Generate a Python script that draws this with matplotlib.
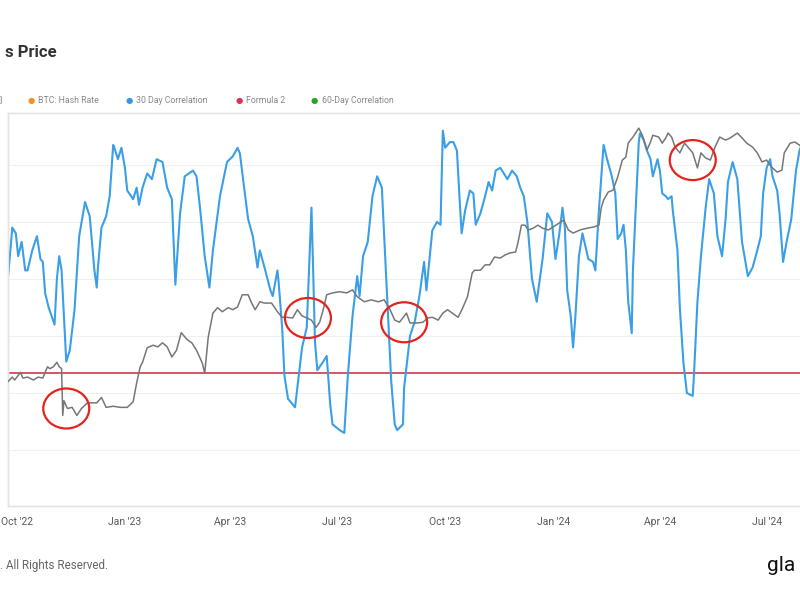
import numpy as np
import pandas as pd
import matplotlib
matplotlib.use("Agg")
import matplotlib.pyplot as plt
import matplotlib.dates as mdates
from matplotlib.patches import Ellipse
from matplotlib.transforms import IdentityTransform

plt.rcParams['font.family'] = ['Roboto', 'DejaVu Sans']

# 30 day correlation (blue)
corr_dates = [
    '2022-09-23', '2022-09-27', '2022-09-30', '2022-10-02', '2022-10-05', '2022-10-08', '2022-10-10',
    '2022-10-14', '2022-10-18', '2022-10-21', '2022-10-23', '2022-10-25', '2022-10-28', '2022-11-02',
    '2022-11-04', '2022-11-06', '2022-11-08', '2022-11-10', '2022-11-12', '2022-11-15', '2022-11-19',
    '2022-11-23', '2022-11-28', '2022-12-02', '2022-12-06', '2022-12-08', '2022-12-09', '2022-12-12',
    '2022-12-16', '2022-12-19', '2022-12-22', '2022-12-23', '2022-12-26', '2022-12-29', '2023-01-01',
    '2023-01-03', '2023-01-08', '2023-01-11', '2023-01-13', '2023-01-16', '2023-01-20', '2023-01-24',
    '2023-01-28', '2023-02-02', '2023-02-06', '2023-02-10', '2023-02-13', '2023-02-17', '2023-02-21',
    '2023-02-28', '2023-03-03', '2023-03-06', '2023-03-10', '2023-03-14', '2023-03-17', '2023-03-23',
    '2023-03-29', '2023-04-03', '2023-04-07', '2023-04-09', '2023-04-12', '2023-04-16', '2023-04-18',
    '2023-04-20', '2023-04-24', '2023-04-26', '2023-04-30', '2023-05-05', '2023-05-07', '2023-05-11',
    '2023-05-12', '2023-05-15', '2023-05-17', '2023-05-20', '2023-05-26', '2023-05-28', '2023-06-01',
    '2023-06-05', '2023-06-09', '2023-06-10', '2023-06-12', '2023-06-14', '2023-06-19', '2023-06-22',
    '2023-06-25', '2023-06-27', '2023-07-03', '2023-07-07', '2023-07-10', '2023-07-14', '2023-07-18',
    '2023-07-20', '2023-07-23', '2023-07-27', '2023-07-31', '2023-08-04', '2023-08-08', '2023-08-10',
    '2023-08-13', '2023-08-16', '2023-08-19', '2023-08-21', '2023-08-26', '2023-08-27', '2023-09-01',
    '2023-09-05', '2023-09-09', '2023-09-13', '2023-09-15', '2023-09-20', '2023-09-24', '2023-09-27',
    '2023-09-29', '2023-10-01', '2023-10-05', '2023-10-08', '2023-10-11', '2023-10-13', '2023-10-15',
    '2023-10-18', '2023-10-22', '2023-10-25', '2023-10-27', '2023-10-31', '2023-11-04', '2023-11-07',
    '2023-11-10', '2023-11-13', '2023-11-17', '2023-11-23', '2023-11-27', '2023-12-01', '2023-12-04',
    '2023-12-07', '2023-12-10', '2023-12-14', '2023-12-18', '2023-12-23', '2023-12-27', '2023-12-31',
    '2024-01-03', '2024-01-06', '2024-01-09', '2024-01-11', '2024-01-13', '2024-01-16', '2024-01-18',
    '2024-01-20', '2024-01-23', '2024-01-26', '2024-01-31', '2024-02-04', '2024-02-06', '2024-02-09',
    '2024-02-13', '2024-02-16', '2024-02-20', '2024-02-23', '2024-02-25', '2024-02-28', '2024-03-01',
    '2024-03-03', '2024-03-05', '2024-03-08', '2024-03-09', '2024-03-12', '2024-03-14', '2024-03-15',
    '2024-03-18', '2024-03-21', '2024-03-24', '2024-03-26', '2024-03-30', '2024-04-01', '2024-04-03',
    '2024-04-06', '2024-04-08', '2024-04-11', '2024-04-12', '2024-04-16', '2024-04-18', '2024-04-21',
    '2024-04-24', '2024-04-29', '2024-04-30', '2024-05-03', '2024-05-06', '2024-05-10', '2024-05-13',
    '2024-05-17', '2024-05-20', '2024-05-24', '2024-05-27', '2024-05-29', '2024-06-02', '2024-06-06',
    '2024-06-10', '2024-06-15', '2024-06-19', '2024-06-23', '2024-06-26', '2024-06-28', '2024-07-01',
    '2024-07-04', '2024-07-06', '2024-07-10', '2024-07-12', '2024-07-15', '2024-07-18', '2024-07-22',
    '2024-07-26', '2024-07-29', '2024-08-02',
]
corr_values = [
    0.19, 0.38, 0.36, 0.28, 0.33, 0.23, 0.23,
    0.30, 0.35, 0.27, 0.26, 0.15, 0.10, 0.04,
    0.20, 0.28, 0.23, 0.07, -0.09, -0.05, 0.09,
    0.35, 0.47, 0.42, 0.23, 0.17, 0.24, 0.38,
    0.42, 0.49, 0.67, 0.66, 0.62, 0.66, 0.59,
    0.51, 0.48, 0.52, 0.46, 0.52, 0.57, 0.55,
    0.62, 0.61, 0.52, 0.48, 0.18, 0.43, 0.56,
    0.58, 0.56, 0.45, 0.28, 0.17, 0.30, 0.49,
    0.61, 0.63, 0.66, 0.64, 0.54, 0.41, 0.38,
    0.35, 0.24, 0.30, 0.24, 0.16, 0.14, 0.23,
    0.19, 0.03, -0.14, -0.22, -0.25, -0.18, -0.04,
    0.03, 0.45, 0.30, -0.02, -0.12, -0.09, -0.07,
    -0.24, -0.31, -0.33, -0.34, -0.14, 0.07, 0.21,
    0.14, 0.28, 0.33, 0.49, 0.56, 0.52, 0.35,
    0.09, -0.16, -0.31, -0.33, -0.31, -0.18, 0.00,
    0.05, 0.14, 0.26, 0.16, 0.37, 0.40, 0.39,
    0.72, 0.66, 0.68, 0.68, 0.65, 0.50, 0.36,
    0.44, 0.51, 0.50, 0.39, 0.43, 0.49, 0.54,
    0.51, 0.58, 0.59, 0.55, 0.58, 0.56, 0.52,
    0.49, 0.40, 0.20, 0.12, 0.27, 0.43, 0.40,
    0.27, 0.35, 0.45, 0.38, 0.16, 0.07, -0.04,
    0.07, 0.28, 0.36, 0.27, 0.26, 0.23, 0.44,
    0.67, 0.62, 0.56, 0.50, 0.34, 0.36, 0.39,
    0.30, 0.12, 0.01, 0.23, 0.50, 0.68, 0.71,
    0.69, 0.65, 0.62, 0.56, 0.62, 0.58, 0.50,
    0.49, 0.48, 0.49, 0.44, 0.30, 0.10, -0.09,
    -0.20, -0.21, -0.14, 0.12, 0.28, 0.45, 0.55,
    0.50, 0.35, 0.28, 0.41, 0.54, 0.61, 0.55,
    0.33, 0.21, 0.24, 0.30, 0.35, 0.50, 0.59,
    0.62, 0.56, 0.51, 0.43, 0.26, 0.33, 0.41,
    0.58, 0.65, 0.70,
]

# BTC price (grey, log scale)
price_dates = [
    '2022-09-23', '2022-09-27', '2022-09-29', '2022-10-04', '2022-10-06', '2022-10-10', '2022-10-15',
    '2022-10-19', '2022-10-23', '2022-10-27', '2022-10-29', '2022-11-01', '2022-11-04', '2022-11-06',
    '2022-11-08', '2022-11-09', '2022-11-10', '2022-11-13', '2022-11-17', '2022-11-21', '2022-11-25',
    '2022-11-30', '2022-12-04', '2022-12-08', '2022-12-12', '2022-12-16', '2022-12-22', '2022-12-28',
    '2023-01-03', '2023-01-08', '2023-01-11', '2023-01-14', '2023-01-16', '2023-01-20', '2023-01-25',
    '2023-01-29', '2023-02-02', '2023-02-06', '2023-02-10', '2023-02-14', '2023-02-18', '2023-02-23',
    '2023-02-27', '2023-03-03', '2023-03-08', '2023-03-10', '2023-03-13', '2023-03-17', '2023-03-21',
    '2023-03-25', '2023-03-30', '2023-04-03', '2023-04-07', '2023-04-11', '2023-04-16', '2023-04-19',
    '2023-04-22', '2023-04-26', '2023-04-30', '2023-05-06', '2023-05-11', '2023-05-15', '2023-05-19',
    '2023-05-24', '2023-05-28', '2023-06-01', '2023-06-05', '2023-06-09', '2023-06-13', '2023-06-16',
    '2023-06-19', '2023-06-22', '2023-06-27', '2023-07-03', '2023-07-09', '2023-07-14', '2023-07-18',
    '2023-07-24', '2023-07-30', '2023-08-05', '2023-08-10', '2023-08-15', '2023-08-19', '2023-08-23',
    '2023-08-29', '2023-09-01', '2023-09-07', '2023-09-12', '2023-09-16', '2023-09-20', '2023-09-25',
    '2023-09-29', '2023-10-03', '2023-10-07', '2023-10-12', '2023-10-16', '2023-10-20', '2023-10-24',
    '2023-10-26', '2023-10-31', '2023-11-04', '2023-11-08', '2023-11-12', '2023-11-17', '2023-11-21',
    '2023-11-25', '2023-11-30', '2023-12-02', '2023-12-05', '2023-12-08', '2023-12-11', '2023-12-15',
    '2023-12-19', '2023-12-23', '2023-12-28', '2024-01-01', '2024-01-06', '2024-01-10', '2024-01-14',
    '2024-01-18', '2024-01-24', '2024-01-30', '2024-02-05', '2024-02-09', '2024-02-11', '2024-02-13',
    '2024-02-17', '2024-02-21', '2024-02-25', '2024-02-29', '2024-03-03', '2024-03-05', '2024-03-09',
    '2024-03-14', '2024-03-17', '2024-03-21', '2024-03-24', '2024-03-26', '2024-03-31', '2024-04-03',
    '2024-04-06', '2024-04-08', '2024-04-11', '2024-04-14', '2024-04-18', '2024-04-22', '2024-04-27',
    '2024-04-29', '2024-05-03', '2024-05-06', '2024-05-10', '2024-05-14', '2024-05-18', '2024-05-22',
    '2024-05-27', '2024-05-31', '2024-06-06', '2024-06-10', '2024-06-14', '2024-06-19', '2024-06-23',
    '2024-06-27', '2024-07-01', '2024-07-05', '2024-07-10', '2024-07-14', '2024-07-16', '2024-07-21',
    '2024-07-25', '2024-07-29', '2024-08-02',
]
price_values = [
    19100, 19600, 19300, 20100, 19500, 19600, 19300,
    19600, 19500, 20700, 20500, 20700, 21200, 20700,
    20500, 16000, 17300, 16600, 16700, 16000, 16600,
    17100, 17100, 17100, 17600, 16700, 16800, 16700,
    16700, 17200, 19000, 20700, 21200, 22900, 23200,
    23000, 23500, 23000, 21800, 22600, 24800, 23900,
    23500, 22600, 21100, 20000, 24200, 27500, 28300,
    27700, 28300, 28000, 28400, 30300, 30300, 29000,
    28000, 29200, 29000, 29000, 27700, 26900, 26900,
    26800, 28000, 27100, 26800, 26500, 25500, 26200,
    28000, 30300, 30600, 30800, 30600, 31100, 30000,
    29200, 29500, 29200, 29500, 28000, 26500, 26200,
    27500, 26100, 26100, 26200, 26800, 26900, 26500,
    27500, 28000, 27500, 26900, 28300, 30000, 34000,
    34500, 34500, 35500, 35500, 37000, 36800, 37400,
    37800, 38000, 39900, 43800, 43800, 42700, 43100,
    43800, 43100, 42700, 43400, 44300, 45000, 42700,
    42000, 42700, 43100, 43400, 43800, 48000, 50000,
    52200, 52700, 56500, 61800, 62800, 67600, 69800,
    73200, 70500, 65200, 68000, 70500, 69800, 67600,
    69500, 71300, 69800, 66200, 64200, 67600, 65200,
    64200, 59300, 64200, 62500, 61800, 66200, 69800,
    68700, 69500, 71300, 69500, 67600, 66200, 64200,
    61200, 61800, 59600, 58000, 58600, 64200, 67600,
    68000, 66900, 66000,
]

formula_2 = -0.13

# highlighted price zones (date, price)
circle_dates = ['2022-11-12', '2023-06-06', '2023-08-27', '2024-04-29']
circle_prices = [16600, 26800, 26200, 61800]

legend_labels = ['BTC: Hash Rate', '30 Day Correlation', 'Formula 2', '60-Day Correlation']
legend_colors = ['#f0931e', '#2f9be3', '#d8344e', '#25a52a']

corr_d = pd.to_datetime(corr_dates)
price_d = pd.to_datetime(price_dates)

fig = plt.figure(figsize=(8, 6), dpi=100)
ax = fig.add_axes([0.01, 0.1567, 1.0275, 0.655])
ax2 = ax.twinx()

ax.plot(corr_d, corr_values, color='#3a9fe6', lw=1.5, zorder=3)
ax.axhline(formula_2, color='#d8445c', lw=1.3, zorder=2)
ax2.plot(price_d, price_values, color='#777777', lw=1.1, zorder=4)

ax.set_zorder(2)
ax.patch.set_visible(False)
ax2.set_zorder(3)

ax.set_xlim(pd.Timestamp('2022-09-23 08:00'), pd.Timestamp('2024-08-24'))
ax.set_ylim(-0.596, 0.782)
ax2.set_yscale('log')
ax2.set_ylim(9910, 79300)

ax.set_yticks([-0.4, -0.2, 0.0, 0.2, 0.4, 0.6])
ax.grid(axis='y', color='#f0f0f0', lw=0.8)
ax.tick_params(axis='y', left=False, labelleft=False)
ax2.tick_params(axis='y', right=False, labelright=False, which='both')
ax2.yaxis.set_minor_locator(matplotlib.ticker.NullLocator())

ax.xaxis.set_major_locator(mdates.MonthLocator(bymonth=[1, 4, 7, 10]))
ax.xaxis.set_major_formatter(mdates.DateFormatter("%b '%y"))
ax.tick_params(axis='x', length=0, pad=8, labelsize=7.5, labelcolor='#5a5a5a')

for a in (ax, ax2):
    for s in a.spines.values():
        s.set_color('#e4e4e4')
        s.set_linewidth(1.0)

# red ellipses around price zones
fig.canvas.draw()
for d, p in zip(circle_dates, circle_prices):
    cx, cy = ax2.transData.transform((mdates.date2num(pd.Timestamp(d)), p))
    fig.add_artist(Ellipse((cx, cy), 46, 40, transform=IdentityTransform(),
                           fill=False, edgecolor='#e3231c', lw=1.6, zorder=10))

# title (cropped)
fig.text(0.006, 0.913, 's Price', fontsize=12, fontweight='bold', color='#333333',
         ha='left', va='center')

# legend row
fig.text(0.0, 0.832, ']', fontsize=6, color='#777777', ha='left', va='center')
leg_x = [0.039, 0.161, 0.299, 0.393]
for x, lab, c in zip(leg_x, legend_labels, legend_colors):
    fig.text(x, 0.832, '\u25cf', fontsize=6, color=c, ha='center', va='center')
    fig.text(x + 0.009, 0.832, lab, fontsize=6.3, color='#888888', ha='left', va='center')

# footer
fig.text(0.0, 0.058, '. All Rights Reserved.', fontsize=8.4, color='#666666', ha='left', va='center')
fig.text(0.959, 0.058, 'gla', fontsize=15, color='#111111', ha='left', va='center')

fig.savefig('out.png', dpi=100)
